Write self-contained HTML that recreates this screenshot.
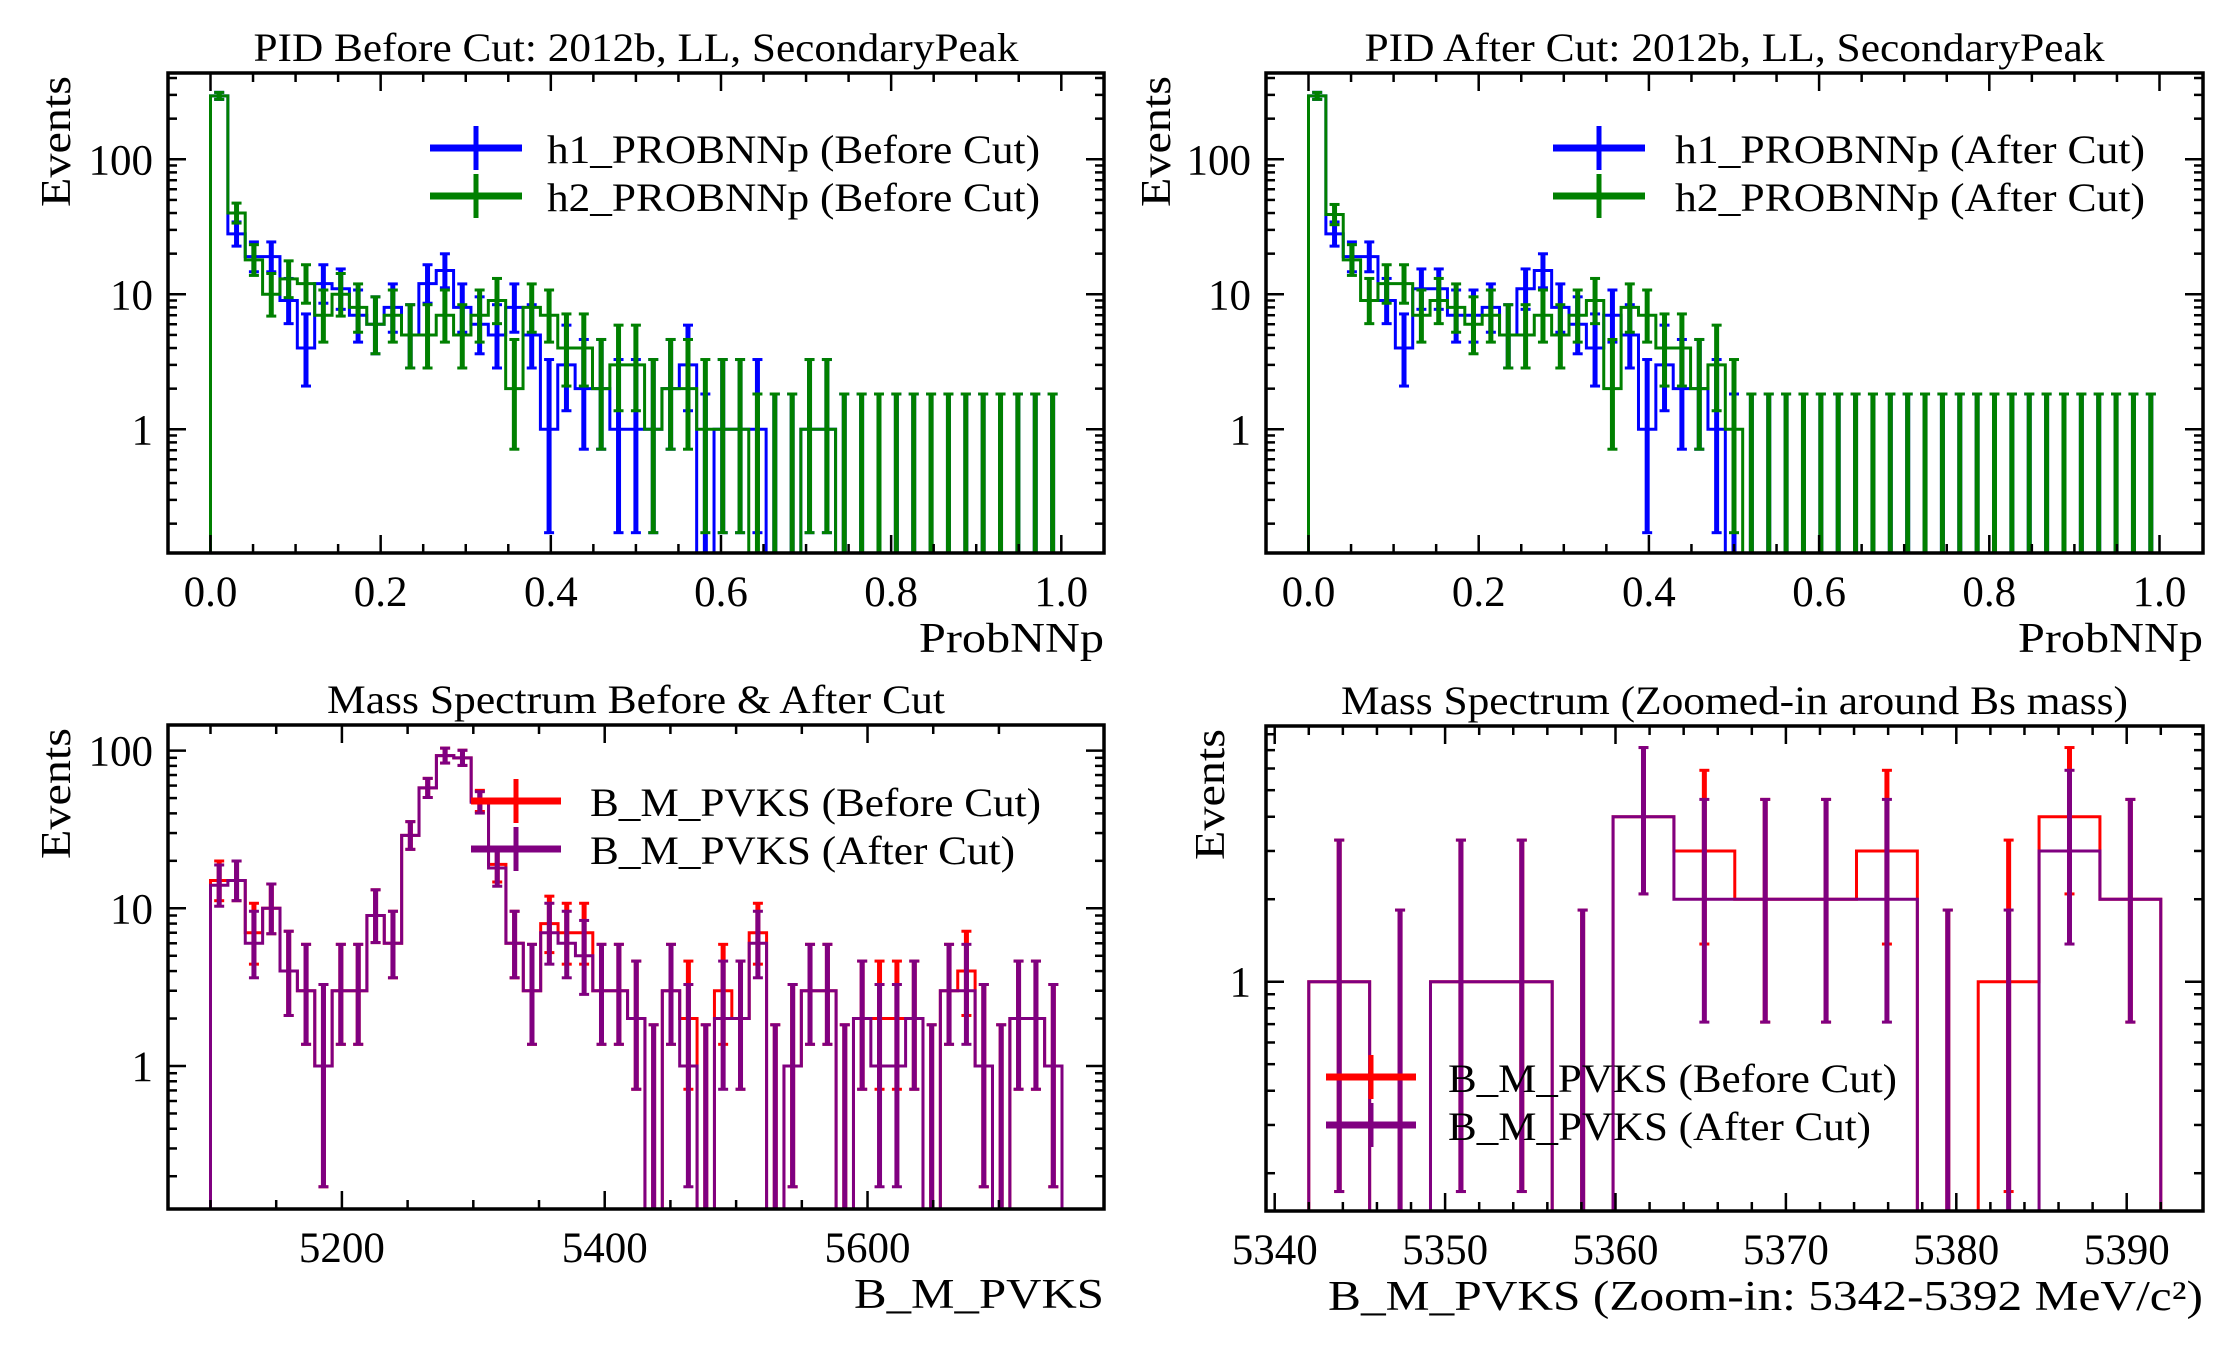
<!DOCTYPE html>
<html><head><meta charset="utf-8"><style>
html,body{margin:0;padding:0;background:#fff;}
svg{display:block;font-family:"Liberation Serif",serif;}
</style></head><body>
<svg id="fig" width="2231" height="1350" viewBox="0 0 2231 1350" xmlns="http://www.w3.org/2000/svg"></svg>
<script>
// ---- data ----
const pidEdges = [0, 1];           // ProbNNp range, 49 bins
const pidNBins = 49;
const h1Before = [295,28,19,19,9,4,12,11,7,6,8,5,12,15,8,6,5,8,5,1,3,2,2,1,1,1,2,3,0,1,1,1,0,0,1,1,0,0,0,0,0,0,0,0,0,0,0,0,0];
const h2Before = [295,40,18,10,13,12,7,10,8,6,7,5,5,7,5,7,9,2,8,7,4,4,2,3,3,1,2,2,1,1,1,0,0,0,1,1,0,0,0,0,0,0,0,0,0,0,0,0,0];
const h1After  = [295,28,19,19,9,4,11,11,7,7,8,5,11,15,8,6,4,7,5,1,3,2,2,1,0,0,0,0,0,0,0,0,0,0,0,0,0,0,0,0,0,0,0,0,0,0,0,0,0];
const h2After  = [295,39,18,9,12,12,7,9,8,6,7,5,5,7,5,7,9,2,8,7,4,4,2,3,1,0,0,0,0,0,0,0,0,0,0,0,0,0,0,0,0,0,0,0,0,0,0,0,0];
const massRange = [5100, 5748];
const massBefore = [15,15,7,10,4,3,1,3,3,9,6,29,58,93,90,48,19,6,3,8,7,7,3,3,2,0,3,2,0,3,2,7,0,1,3,3,0,2,2,2,2,0,3,4,1,0,2,2,1];
const massAfter  = [14,15,6,10,4,3,1,3,3,9,6,29,58,93,90,47,18,6,3,7,6,5,3,3,2,0,3,1,0,2,2,6,0,1,3,3,0,2,1,1,2,0,3,3,1,0,2,2,1];
const zoomRange = [5342, 5392];
const zoomBefore = [1,0,1,1,0,4,3,2,2,3,0,1,4,2];
const zoomAfter  = [1,0,1,1,0,4,2,2,2,2,0,0,3,2];
const pidTicks = [0,0.2,0.4,0.6,0.8,1.0];
const pidTickLabels = ["0.0","0.2","0.4","0.6","0.8","1.0"];
const massTicks = [5200,5400,5600];
const zoomTicks = [5340,5350,5360,5370,5380,5390];
const logTicks = [1,10,100];

const NS="http://www.w3.org/2000/svg";
const svg=document.getElementById('fig');
function mk(tag,attrs,parent){const e=document.createElementNS(NS,tag);for(const k in attrs)e.setAttribute(k,attrs[k]);(parent||svg).appendChild(e);return e;}
function garLo(n){if(n<=0)return 0;return n*Math.pow(1-1/(9*n)-1/(3*Math.sqrt(n)),3);}
function garHi(n){const m=n+1;return m*Math.pow(1-1/(9*m)+1/(3*Math.sqrt(m)),3);}

function panel(p){
  const g=mk('g',{});
  
  
  const X=v=>p.x0+(v-p.d0)/(p.d1-p.d0)*(p.x1-p.x0);
  const Y=v=>v<=0?p.fb+50:p.y1-Math.log10(v)*p.dec;
  const clipId=p.name+'-clip';
  const defs=mk('defs',{},g);
  const cp=mk('clipPath',{id:clipId},defs);
  mk('rect',{x:p.fl,y:p.ft,width:p.fr-p.fl,height:p.fb-p.ft},cp);
  const plot=mk('g',{'clip-path':'url(#'+clipId+')'},g);
  p.series.forEach(s=>{
    const n=s.values.length, w=(p.d1-p.d0)/n;
    let d='M'+X(p.d0)+','+(p.fb+50);
    for(let i=0;i<n;i++){const y=Y(s.values[i]);d+=' L'+X(p.d0+i*w)+','+y+' L'+X(p.d0+(i+1)*w)+','+y;}
    d+=' L'+X(p.d1)+','+(p.fb+50);
    const path=mk('path',{d:d,fill:'none',stroke:s.color,'stroke-width':3},plot);
    
    
    for(let i=0;i<n;i++){
      const v=s.values[i], cx=X(p.d0+(i+0.5)*w);
      const lo=garLo(v), hi=garHi(v);
      const yl=lo<=0?p.fb+20:Y(lo), yh=Y(hi);
      const eb=mk('g',{},plot);
      
      
      mk('line',{x1:cx,x2:cx,y1:yl,y2:yh,stroke:s.color,'stroke-width':5},eb);
      mk('line',{x1:cx-5,x2:cx+5,y1:yh,y2:yh,stroke:s.color,'stroke-width':3},eb);
      if(lo>0)mk('line',{x1:cx-5,x2:cx+5,y1:yl,y2:yl,stroke:s.color,'stroke-width':3},eb);
    }
  });
  const tk=mk('g',{stroke:'#000','stroke-width':2.5},g);
  
  
  for(let v=p.minorStart;v<=p.d1+1e-9;v+=p.minorStep){
    const x=X(v); if(x<p.fl||x>p.fr)continue;
    const isMaj=p.xticks.some(t=>Math.abs(t-v)<1e-6);
    const L=isMaj?18:9;
    mk('line',{x1:x,x2:x,y1:p.fb,y2:p.fb-L},tk);
    mk('line',{x1:x,x2:x,y1:p.ft,y2:p.ft+L},tk);
  }
  for(let e=-2;e<=3;e++){for(let m=1;m<10;m++){
    const v=m*Math.pow(10,e), y=Y(v); if(y<p.ft||y>p.fb)continue;
    const L=m===1?18:9;
    mk('line',{x1:p.fl,x2:p.fl+L,y1:y,y2:y},tk);
    mk('line',{x1:p.fr,x2:p.fr-L,y1:y,y2:y},tk);
  }}
  const fr=mk('rect',{x:p.fl,y:p.ft,width:p.fr-p.fl,height:p.fb-p.ft,fill:'none',stroke:'#000','stroke-width':3.5},g);
  
  
  p.xticks.forEach((t,i)=>{
    const tx=mk('text',{x:X(t),y:p.fb+53,'font-size':43,'text-anchor':'middle'},g);
    tx.textContent=p.xlabels[i];
    
    
  });
  p.ylog.forEach(t=>{
    const y=Y(t); if(y<p.ft||y>p.fb)return;
    const tx=mk('text',{x:p.fl-15,y:y+15,'font-size':43,'text-anchor':'end'},g);
    tx.textContent=String(t);
    
    
  });
  const tt=mk('text',{x:(p.fl+p.fr)/2,y:p.ft-12,'font-size':40,'text-anchor':'middle',textLength:p.titleLen,lengthAdjust:'spacingAndGlyphs'},g);
  tt.textContent=p.title;
  
  
  const xl=mk('text',{x:p.fr,y:p.fb+99,'font-size':42,'text-anchor':'end',textLength:p.xlabLen,lengthAdjust:'spacingAndGlyphs'},g);
  xl.textContent=p.xlab;
  
  
  const yl=mk('text',{x:0,y:0,'font-size':42,'text-anchor':'end',transform:'translate('+p.ylx+','+(p.ft+3)+') rotate(-90)',textLength:131,lengthAdjust:'spacingAndGlyphs'},g);
  yl.textContent='Events';
  
  
  p.series.forEach((s,i)=>{
    const lg=mk('g',{},g);
    
    
    const y=p.leg.y+i*p.leg.dy, x0=p.leg.x, x1=p.leg.x+p.leg.w;
    mk('line',{x1:x0,x2:x1,y1:y,y2:y,stroke:s.color,'stroke-width':7},lg);
    mk('line',{x1:(x0+x1)/2,x2:(x0+x1)/2,y1:y-22,y2:y+22,stroke:s.color,'stroke-width':5},lg);
    const t=mk('text',{x:p.leg.tx,y:y+15,'font-size':40,textLength:s.legLen,lengthAdjust:'spacingAndGlyphs'},lg);
    t.textContent=s.label;
  });
}

panel({name:'pid-before-panel',x0:210.5,x1:1061.3,d0:0,d1:1,fl:168,fr:1104,ft:73,fb:553,y1:429.3,dec:135,
  minorStart:0,minorStep:0.05,xticks:pidTicks,xlabels:pidTickLabels,ylog:logTicks,
  title:'PID Before Cut: 2012b, LL, SecondaryPeak',titleLen:765,xlab:'ProbNNp',xlabLen:185,ylx:70,
  leg:{x:430,w:92,y:148,dy:48,tx:547},
  series:[{name:'h1-before',color:'#0000ff',values:h1Before,label:'h1_PROBNNp (Before Cut)',legLen:493},
          {name:'h2-before',color:'#008000',values:h2Before,label:'h2_PROBNNp (Before Cut)',legLen:493}]});
panel({name:'pid-after-panel',x0:1308.5,x1:2159.5,d0:0,d1:1,fl:1266,fr:2203,ft:73,fb:553,y1:429.3,dec:135,
  minorStart:0,minorStep:0.05,xticks:pidTicks,xlabels:pidTickLabels,ylog:logTicks,
  title:'PID After Cut: 2012b, LL, SecondaryPeak',titleLen:740,xlab:'ProbNNp',xlabLen:185,ylx:1170,
  leg:{x:1553,w:92,y:148,dy:48,tx:1675},
  series:[{name:'h1-after',color:'#0000ff',values:h1After,label:'h1_PROBNNp (After Cut)',legLen:470},
          {name:'h2-after',color:'#008000',values:h2After,label:'h2_PROBNNp (After Cut)',legLen:470}]});
panel({name:'mass-panel',x0:210.5,x1:1062,d0:massRange[0],d1:massRange[1],fl:168,fr:1104,ft:725,fb:1209,y1:1066,dec:157.7,
  minorStart:5100,minorStep:50,xticks:massTicks,xlabels:massTicks.map(String),ylog:logTicks,
  title:'Mass Spectrum Before & After Cut',titleLen:618,xlab:'B_M_PVKS',xlabLen:250,ylx:70,
  leg:{x:471,w:90,y:801,dy:48,tx:590},
  series:[{name:'mass-before',color:'#ff0000',values:massBefore,label:'B_M_PVKS (Before Cut)',legLen:451},
          {name:'mass-after',color:'#800080',values:massAfter,label:'B_M_PVKS (After Cut)',legLen:425}]});
panel({name:'mass-zoom-panel',x0:1274.7+2*17.04,x1:1274.7+52*17.04,d0:zoomRange[0],d1:zoomRange[1],fl:1266,fr:2203,ft:726,fb:1211,y1:981.7,dec:274,
  minorStart:5340,minorStep:2,xticks:zoomTicks,xlabels:zoomTicks.map(String),ylog:[1],
  title:'Mass Spectrum (Zoomed-in around Bs mass)',titleLen:787,xlab:'B_M_PVKS (Zoom-in: 5342-5392 MeV/c²)',xlabLen:875,ylx:1224,
  leg:{x:1326,w:90,y:1077,dy:48,tx:1448},
  series:[{name:'zoom-before',color:'#ff0000',values:zoomBefore,label:'B_M_PVKS (Before Cut)',legLen:449},
          {name:'zoom-after',color:'#800080',values:zoomAfter,label:'B_M_PVKS (After Cut)',legLen:423}]});
</script>
</body></html>
